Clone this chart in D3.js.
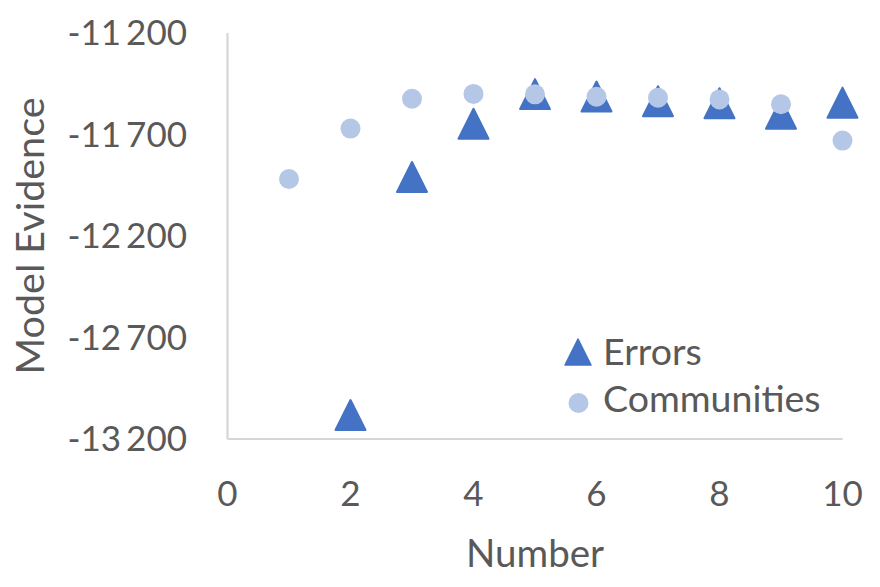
<!DOCTYPE html>
<html>
<head>
<meta charset="utf-8">
<script src="https://cdn.jsdelivr.net/npm/d3@7"></script>
<style>
  html, body { margin: 0; padding: 0; background: #fff; }
  svg { display: block; }
  text { font-family: Lato, "Open Sans", sans-serif; fill: #595959; }
</style>
</head>
<body>
<div id="chart"></div>
<script>
// ---- data ----
const errorsX = [2, 3, 4, 5, 6, 7, 8, 9, 10];
const errorsY = [-13082, -11909, -11647, -11501, -11513, -11536, -11546, -11598, -11543];
const communitiesX = [1, 2, 3, 4, 5, 6, 7, 8, 9, 10];
const communitiesY = [-11919, -11671, -11524, -11500, -11502, -11514, -11519, -11527, -11551, -11730];
const xTicks = [0, 2, 4, 6, 8, 10];
const yTicks = [-11200, -11700, -12200, -12700, -13200];
const seriesNames = ["Errors", "Communities"];
const xTitle = "Number";
const yTitle = "Model Evidence";

// ---- layout ----
const W = 880, H = 587;
const svg = d3.select("#chart").append("svg").attr("width", W).attr("height", H);

const x = d3.scaleLinear().domain([0, 10]).range([227.5, 842.5]);
const y = d3.scaleLinear().domain([-13200, -11200]).range([439, 33]);

const fmtY = v => {
  const s = Math.abs(v).toString();
  return (v < 0 ? "-" : "") + s.slice(0, s.length - 3) + " " + s.slice(-3);
};

// axis lines
svg.append("line")
  .attr("x1", x(0)).attr("x2", x(0)).attr("y1", y(-11200)).attr("y2", y(-13200))
  .attr("stroke", "#d6d6d6").attr("stroke-width", 2.2);
svg.append("line")
  .attr("x1", x(0)).attr("x2", x(10)).attr("y1", y(-13200)).attr("y2", y(-13200))
  .attr("stroke", "#d6d6d6").attr("stroke-width", 2.2);

// y tick labels
svg.append("g").selectAll("text").data(yTicks).join("text")
  .attr("x", 187).attr("y", d => y(d) + 12)
  .attr("text-anchor", "end")
  .style("font-size", "35px")
  .style("word-spacing", "-4px")
  .text(fmtY);

// x tick labels
svg.append("g").selectAll("text").data(xTicks).join("text")
  .attr("x", d => x(d)).attr("y", 506)
  .attr("text-anchor", "middle")
  .style("font-size", "35px")
  .text(d => d);

// axis titles
svg.append("text")
  .attr("x", (x(0) + x(10)) / 2).attr("y", 567)
  .attr("text-anchor", "middle")
  .style("font-size", "38.5px")
  .text(xTitle);
svg.append("text")
  .attr("transform", `translate(44,${(y(-11200) + y(-13200)) / 2}) rotate(-90)`)
  .attr("text-anchor", "middle")
  .style("font-size", "39.5px")
  .text(yTitle);

const triColor = "#4472C4", circColor = "#B4C7E7";
const tri = s => `M0,${-s}L${s},${s}L${-s},${s}Z`;

// Errors (triangles)
svg.append("g").selectAll("path").data(errorsX.map((d, i) => [d, errorsY[i]])).join("path")
  .attr("transform", d => `translate(${x(d[0])},${y(d[1])})`)
  .attr("d", tri(15))
  .attr("fill", triColor).attr("stroke", triColor)
  .attr("stroke-width", 2).attr("stroke-linejoin", "round");

// Communities (circles)
svg.append("g").selectAll("circle").data(communitiesX.map((d, i) => [d, communitiesY[i]])).join("circle")
  .attr("cx", d => x(d[0])).attr("cy", d => y(d[1]))
  .attr("r", 10)
  .attr("fill", circColor);

// legend
const lg = svg.append("g");
lg.append("path").attr("transform", "translate(578,352)")
  .attr("d", tri(13)).attr("fill", triColor).attr("stroke", triColor)
  .attr("stroke-width", 1.5).attr("stroke-linejoin", "round");
lg.append("text").attr("x", 603).attr("y", 365).style("font-size", "37.5px").text(seriesNames[0]);
lg.append("circle").attr("cx", 578.5).attr("cy", 403).attr("r", 10).attr("fill", circColor);
lg.append("text").attr("x", 603).attr("y", 411.5).style("font-size", "37.5px").text(seriesNames[1]);
</script>
</body>
</html>
